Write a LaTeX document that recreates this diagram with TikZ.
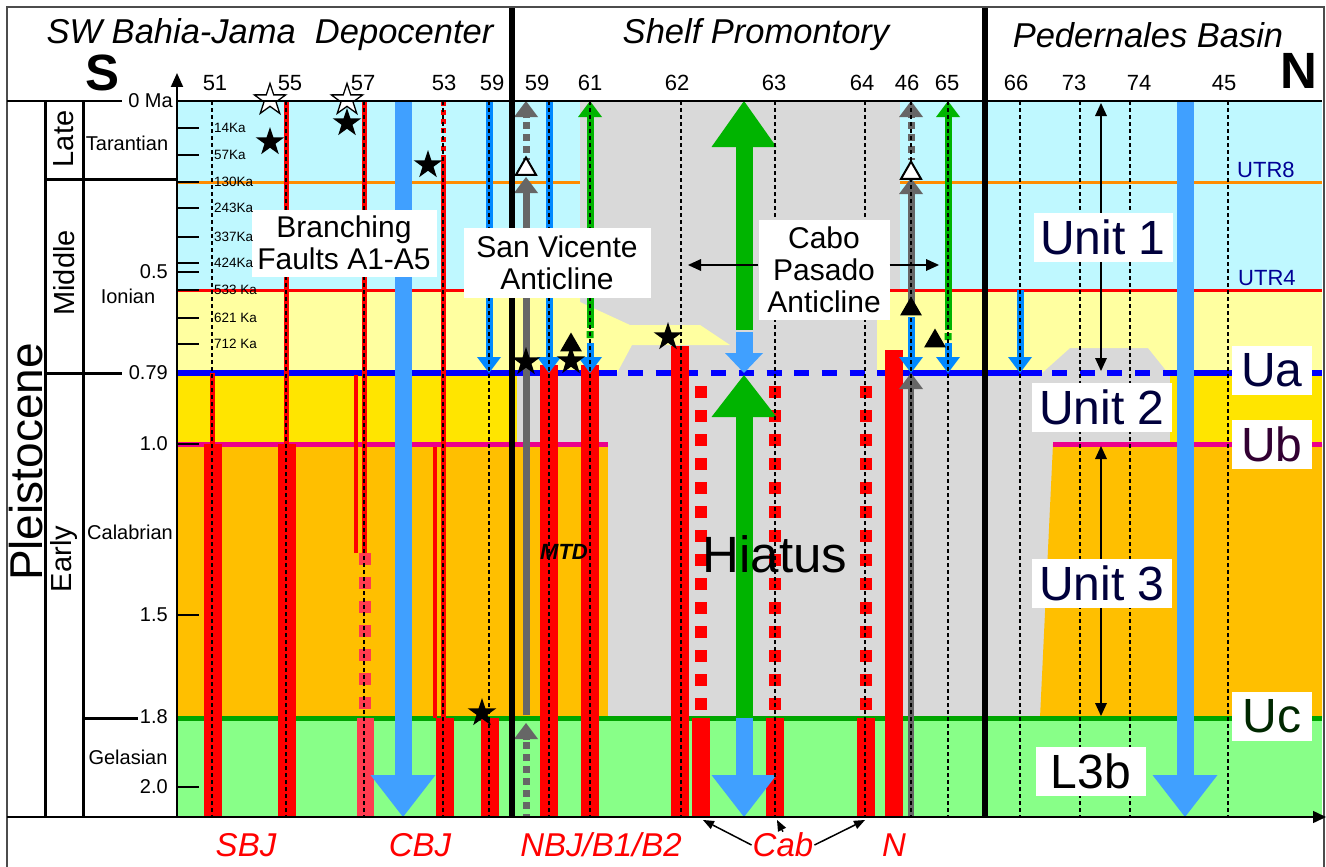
\documentclass[tikz,border=0pt]{standalone}
\usepackage{fontspec}
\setmainfont{Liberation Sans}
\usetikzlibrary{arrows.meta,shapes.geometric}

\definecolor{StratCyan}{RGB}{191,248,255}
\definecolor{StratPale}{RGB}{255,255,160}
\definecolor{StratYellow}{RGB}{255,229,0}
\definecolor{StratAmber}{RGB}{255,191,0}
\definecolor{StratGreen}{RGB}{136,255,136}
\definecolor{HiatusGray}{RGB}{217,217,217}
\definecolor{HorizonOrange}{RGB}{255,140,0}
\definecolor{HorizonGreen}{RGB}{0,165,0}
\definecolor{FaultRed}{RGB}{255,0,0}
\definecolor{FaultPink}{RGB}{255,60,80}
\definecolor{WellBlue}{RGB}{0,136,255}
\definecolor{FlowBlue}{RGB}{64,160,255}
\definecolor{WellGreen}{RGB}{0,180,0}
\definecolor{WellGray}{RGB}{102,102,102}
\definecolor{LabelNavy}{RGB}{0,0,60}
\definecolor{TRNavy}{RGB}{0,0,150}
\definecolor{UbInk}{RGB}{50,0,50}
\definecolor{UcInk}{RGB}{0,40,0}

\begin{document}
\begin{tikzpicture}[x=1pt,y=-1pt,font=\fontsize{20}{24}\selectfont,
  welldash/.style={line width=1.3pt,dash pattern=on 4pt off 3pt},
  faultline/.style={FaultRed,line width=5pt},
  faultbar/.style={FaultRed,line width=18pt},
  faultdots/.style={FaultRed,line width=12pt,dash pattern=on 12pt off 12pt},
  wellarrow/.style={line width=7pt,-{Triangle[width=24pt,length=16pt,line width=0pt]}},
  welldots/.style={WellGray,line width=7pt,dash pattern=on 7pt off 5pt},
  flowarrow/.style={line width=17pt,-{Triangle[width=65pt,length=42pt,line width=0pt]}},
  notebox/.style={fill=white,align=center,inner sep=0pt,font=\fontsize{30}{32}\selectfont},
  unitbox/.style={fill=white,inner sep=0pt,minimum height=49pt,font=\fontsize{48}{50}\selectfont},
  pointer/.style={line width=2pt,>={Triangle[width=12pt,length=13pt,line width=0pt]},->},
  fullstar/.style={star,star points=5,star point ratio=2.6,fill=black,inner sep=0pt,minimum size=30pt},
  openstar/.style={fullstar,fill=white,draw=black,line width=1.3pt,minimum size=33pt},
  fulltri/.style={regular polygon,regular polygon sides=3,fill=black,inner sep=0pt,minimum size=25pt},
  opentri/.style={fulltri,fill=white,draw=black,line width=2pt,minimum size=23pt},
  redlabel/.style={FaultRed,inner sep=1pt,font=\fontsize{33}{33}\selectfont\itshape},
  heading/.style={font=\fontsize{34.5}{34.5}\selectfont\itshape}]
  \useasboundingbox (0,0) rectangle (1326,867);
  % Coordinates are pixels of the section, y grows downward.
  \newcommand{\cabfault}[1]{%
    \draw[faultdots] (#1,386) -- (#1,718);
    \draw[faultbar] (#1,718) -- (#1,817);
  }

  \fill[HiatusGray] (177,101) rectangle (1322,817);
  \fill[StratCyan] (177,101) rectangle (580,290);
  \fill[StratCyan] (900,101) rectangle (1322,290);
  \fill[StratPale] (177,290) -- (580,290) -- (580,302) -- (630,325) -- (700,325)
    -- (730,345) -- (632,345) -- (617,373) -- (177,373) -- cycle;
  \fill[StratPale] (877,290) -- (1322,290) -- (1322,373) -- (1168,373) -- (1148,348)
    -- (1070,348) -- (1042,373) -- (877,373) -- cycle;
  \fill[StratYellow] (177,373) rectangle (517,444);
  \fill[StratYellow] (1170,373) rectangle (1322,444);
  \fill[StratAmber] (177,444) rectangle (608,718);
  \fill[StratAmber] (1053,444) -- (1322,444) -- (1322,718) -- (1040,718) -- cycle;
  \fill[StratGreen] (177,718) rectangle (1322,817);

  \draw[HorizonOrange,line width=3pt] (177,182) -- (580,182) (900,182) -- (1322,182);
  \draw[FaultRed,line width=3pt] (177,290) -- (580,290) (880,290) -- (1322,290);
  \draw[blue,line width=6pt] (177,373) -- (617,373) (877,373) -- (1042,373) (1163,373) -- (1322,373);
  \draw[blue,line width=6pt,dash pattern=on 15pt off 12.7pt] (628,373) -- (877,373) (1052,373) -- (1163,373);
  \draw[magenta,line width=5pt] (177,444) -- (608,444) (1053,444) -- (1322,444);
  \draw[HorizonGreen,line width=5pt] (177,718) -- (1322,718);

  \draw[faultline] (212,373) -- (212,444) (286,101) -- (286,444) (364,101) -- (364,553)
    (443,157) -- (443,718);
  \draw[faultline,line width=4pt] (356,375) -- (356,553) (435,447) -- (435,718);
  \draw[faultline,dash pattern=on 5pt off 4pt] (443,101) -- (443,157);
  \draw[faultdots,FaultPink] (365,553) -- (365,718);
  \draw[faultbar,FaultPink,line width=17pt] (365,718) -- (365,817);
  \foreach \x/\top in {213/444,287/444,445/718,490/718,549/365,590/365,680/346,894/350}
    \draw[faultbar] (\x,\top) -- (\x,817);
  \cabfault{701}
  \cabfault{775}
  \cabfault{866}

  \draw[flowarrow,FlowBlue] (403,101) -- (403,817);
  \draw[flowarrow,FlowBlue] (1185,101) -- (1185,817);
  \draw[flowarrow,WellGreen,-{Triangle[width=65pt,length=46pt,line width=0pt]}] (744,330) -- (744,101);
  \draw[FlowBlue,line width=17pt,-{Triangle[width=38pt,length=20pt,line width=0pt]}] (744,332) -- (744,373);
  \draw[flowarrow,WellGreen] (744,718) -- (744,375);
  \draw[flowarrow,FlowBlue] (744,718) -- (744,817);

  \foreach \x/\top in {489/101,549/101,590/343,911/317,948/343,1020/290}
    \draw[wellarrow,WellBlue] (\x,\top) -- (\x,373);
  \draw[wellarrow,WellGreen] (590,328) -- (590,101);
  \draw[wellarrow,WellGreen] (948,330) -- (948,101);
  \fill[WellGreen] (586.5,331) rectangle (593.5,338) (944.5,333) rectangle (951.5,340);
  \foreach \x in {526,911} {
    \draw[wellarrow,WellGray] (\x,118) -- (\x,101);
    \draw[welldots] (\x,122) -- (\x,160);
  }
  \draw[wellarrow,WellGray] (526,715) -- (526,177);
  \draw[wellarrow,WellGray] (526,740) -- (526,723);
  \draw[welldots] (526,742) -- (526,817);
  \draw[wellarrow,WellGray] (911,303) -- (911,178);
  \draw[wellarrow,WellGray,line width=6pt] (911,817) -- (911,373);

  \foreach \x in {212,286,364,443,489,549,590,681,775,865,911,948,1020,1080,1130,1228}
    \draw[welldash] (\x,101) -- (\x,817);
  \draw[line width=6pt] (512,7) -- (512,817) (985,7) -- (985,817);

  \node[notebox,minimum width=185pt,minimum height=67pt] (faultsA) at (344,243) {Branching\\Faults A1-A5};
  \node[notebox,minimum width=187pt,minimum height=70pt] (sanvic) at (557,263) {San Vicente\\Anticline};
  \node[notebox,minimum width=131pt,minimum height=100pt] (cabo) at (824,270) {Cabo\\Pasado\\Anticline};
  \coordinate (caboW) at (688,265);
  \coordinate (caboE) at (939,265);
  \draw[pointer,line width=2.5pt] (cabo.west |- caboW) -- (caboW);
  \draw[pointer,line width=2.5pt] (cabo.east |- caboE) -- (caboE);

  \coordinate (u1top) at (1101,103);
  \coordinate (u1bot) at (1101,371);
  \coordinate (u3top) at (1101,446);
  \coordinate (u3bot) at (1101,716);
  \draw[pointer,<->] (u1top) -- (u1bot);
  \draw[pointer,<->] (u3top) -- (u3bot);
  \node[unitbox,minimum width=139pt,text=LabelNavy] (unit1) at (1103,237) {Unit 1};
  \node[unitbox,minimum width=140pt,text=LabelNavy] (unit2) at (1102,407) {Unit 2};
  \node[unitbox,minimum width=140pt,text=LabelNavy] (unit3) at (1102,583) {Unit 3};
  \node[unitbox,minimum width=110pt] (l3b) at (1091,771) {L3b};
  \node[unitbox,minimum width=80pt,text=LabelNavy] (ua) at (1272,370) {Ua};
  \node[unitbox,minimum width=80pt,text=UbInk] (ub) at (1272,444) {Ub};
  \node[unitbox,minimum width=80pt,text=UcInk] (uc) at (1272,716) {Uc};
  \node[anchor=west,inner sep=0pt,text=TRNavy,font=\fontsize{22}{22}\selectfont] (utr8) at (1237,170) {UTR8};
  \node[anchor=west,inner sep=0pt,text=TRNavy,font=\fontsize{22}{22}\selectfont] (utr4) at (1238,278) {UTR4};
  \node[font=\fontsize{51}{51}\selectfont] (hiatus) at (775,554) {Hiatus};
  \node[font=\fontsize{22}{22}\selectfont\bfseries\itshape] (mtd) at (564,552) {MTD};

  \node[openstar] (wstar55) at (270,100) {};
  \node[openstar] (wstar57) at (347,100) {};
  \foreach \x/\y [count=\i] in {270/142,347/123,428/165,482/713,526/362,571/361,668/337}
    \node[fullstar] (star\i) at (\x,\y) {};
  \node[fulltri] (tri61) at (571,345) {};
  \node[fulltri] (tri46) at (911,309) {};
  \node[fulltri] (tri65) at (935,341) {};
  \node[opentri] (otri59) at (526,169) {};
  \node[opentri] (otri46) at (911,173) {};

  \draw[black!70,line width=1.2pt] (7,870) -- (7,7) -- (1324,7) -- (1324,870);
  \draw[line width=1.5pt] (7,101) -- (122,101) (177,101) -- (1322,101);
  \draw[line width=2pt,-{Triangle[width=12pt,length=14pt]}] (177,817) -- (177,73);
  \draw[line width=1.5pt,-{Triangle[width=12pt,length=13pt]}] (7,817) -- (1326,817);
  \draw[line width=3pt] (45,101) -- (45,817) (83,101) -- (83,817) (45,179) -- (177,179)
    (45,373) -- (122,373) (83,718) -- (138,718);
  \foreach \y in {128,155,182,208,237,263,272,290,318,344,444,615,787}
    \draw[line width=1.5pt] (177,\y) -- (199,\y);
  \foreach \y/\lab in {128/14Ka,155/57Ka,182/130Ka,208/243Ka,237/337Ka,263/424Ka,
      290/{533 Ka},318/{621 Ka},344/{712 Ka}}
    \node[anchor=west,inner sep=0pt,font=\fontsize{13.5}{14}\selectfont] (ka\y) at (214,\y) {\lab};
  \foreach \x/\y/\lab in {173/101/{0 Ma},168/272/0.5,168/373/0.79,168/444/1.0,168/615/1.5,
      168/717/1.8,168/787/2.0}
    \node[anchor=east,inner sep=0pt] (age\y) at (\x,\y) {\lab};
  \node (tarantian) at (127,143) {Tarantian};
  \node (ionian) at (128,296) {Ionian};
  \node (calabrian) at (130,532) {Calabrian};
  \node (gelasian) at (128,757) {Gelasian};
  \node[rotate=90,font=\fontsize{29}{29}\selectfont] (late) at (64,139) {Late};
  \node[rotate=90,font=\fontsize{29}{29}\selectfont] (middle) at (64,273) {Middle};
  \node[rotate=90,font=\fontsize{29}{29}\selectfont] (early) at (64,559) {Early};
  \node[rotate=90,font=\fontsize{46}{46}\selectfont] (pleisto) at (26,462) {Pleistocene};

  \node[heading] (swbj) at (270,35) {SW Bahia-Jama\ \ Depocenter};
  \node[heading] (shelf) at (756,35) {Shelf Promontory};
  \node[heading] (pedern) at (1148,35) {Pedernales Basin};
  \node[font=\fontsize{51}{51}\selectfont\bfseries] (south) at (103,73) {S};
  \node[font=\fontsize{51}{51}\selectfont\bfseries] (north) at (1299,71) {N};
  \foreach \x/\lab [count=\i] in {215/51,290/55,363/57,444/53,492/59,537/59,590/61,677/62,
      774/63,862/64,907/46,947/65,1016/66,1074/73,1139/74,1224/45}
    \node[font=\fontsize{22}{22}\selectfont] (num\i) at (\x,83) {\lab};

  \node[redlabel] (sbj) at (246,845) {SBJ};
  \node[redlabel] (cbj) at (420,845) {CBJ};
  \node[redlabel] (nbj) at (601,845) {NBJ/B1/B2};
  \node[redlabel] (cab) at (783,845) {Cab};
  \node[redlabel] (nlab) at (894,845) {N};
  \coordinate (cabA) at (703,820);
  \coordinate (cabB) at (777,820);
  \coordinate (cabC) at (865,820);
  \draw[pointer,line width=1.5pt,>={Triangle[width=9pt,length=11pt,line width=0pt]}] (cab.west) -- (cabA);
  \draw[pointer,line width=1.5pt,>={Triangle[width=9pt,length=11pt,line width=0pt]}] (cab.north) -- (cabB);
  \draw[pointer,line width=1.5pt,>={Triangle[width=9pt,length=11pt,line width=0pt]}] (cab.east) -- (cabC);
\end{tikzpicture}
\end{document}
